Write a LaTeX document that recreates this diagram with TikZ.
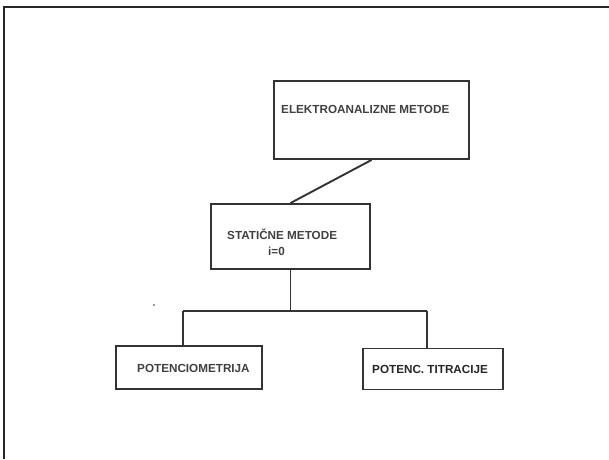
\documentclass[tikz,border=0pt]{standalone}
\usepackage{fontspec}
\newfontfamily\arialfont{Liberation Sans}
\usetikzlibrary{positioning}
\definecolor{mygray}{RGB}{51,51,51}
\definecolor{mytext}{RGB}{64,64,64}
\tikzset{
  box/.style={draw=mygray,line width=1.9pt,rectangle,inner sep=0pt},
  lbl/.style={font=\arialfont\bfseries\fontsize{11.7}{13}\selectfont,text=mytext,inner sep=0pt},
  conn/.style={mygray,line width=1.9pt}
}
\begin{document}
\begin{tikzpicture}[x=1pt,y=-1pt]
\useasboundingbox (0,0) rectangle (609,459);
% outer frame, top and left only
\draw[black!85,line width=2pt] (4,459) -- (4,7) -- (609,7);
% boxes
\node[box,minimum width=195pt,minimum height=78pt] (elektro) at (371.5,120) {};
\node[box,minimum width=159pt,minimum height=65pt] (staticne) at (290.5,236.5) {};
\node[box,minimum width=146pt,minimum height=43pt] (potenc) at (189,367.5) {};
\node[box,minimum width=140pt,minimum height=41pt] (titr) at (433,369) {};
% texts
\node[lbl,anchor=west] (tElektro) at (281,109) {ELEKTROANALIZNE METODE};
\node[lbl,anchor=west] (tStaticne) at (227,234) {STATIČNE METODE};
\node[lbl,anchor=west] (tNula) at (268,251) {i=0};
\node[lbl,anchor=west] (tPotenc) at (137,368) {POTENCIOMETRIJA};
\node[lbl,anchor=west,text=black!85] (tTitr) at (372,369) {POTENC. TITRACIJE};
% connectors
\coordinate (busL) at (183,311);
\coordinate (busR) at (427,311);
\draw[conn] (elektro.south) -- (staticne.north);
\draw[conn] (staticne.south) -- (staticne.south |- busL);
\draw[conn] (busL) -- (busR);
\draw[conn] (busL) -- (busL |- potenc.north);
\draw[conn] (busR) -- (busR |- titr.north);
\fill[mygray] (154,305) circle (0.9pt);
\end{tikzpicture}
\end{document}
